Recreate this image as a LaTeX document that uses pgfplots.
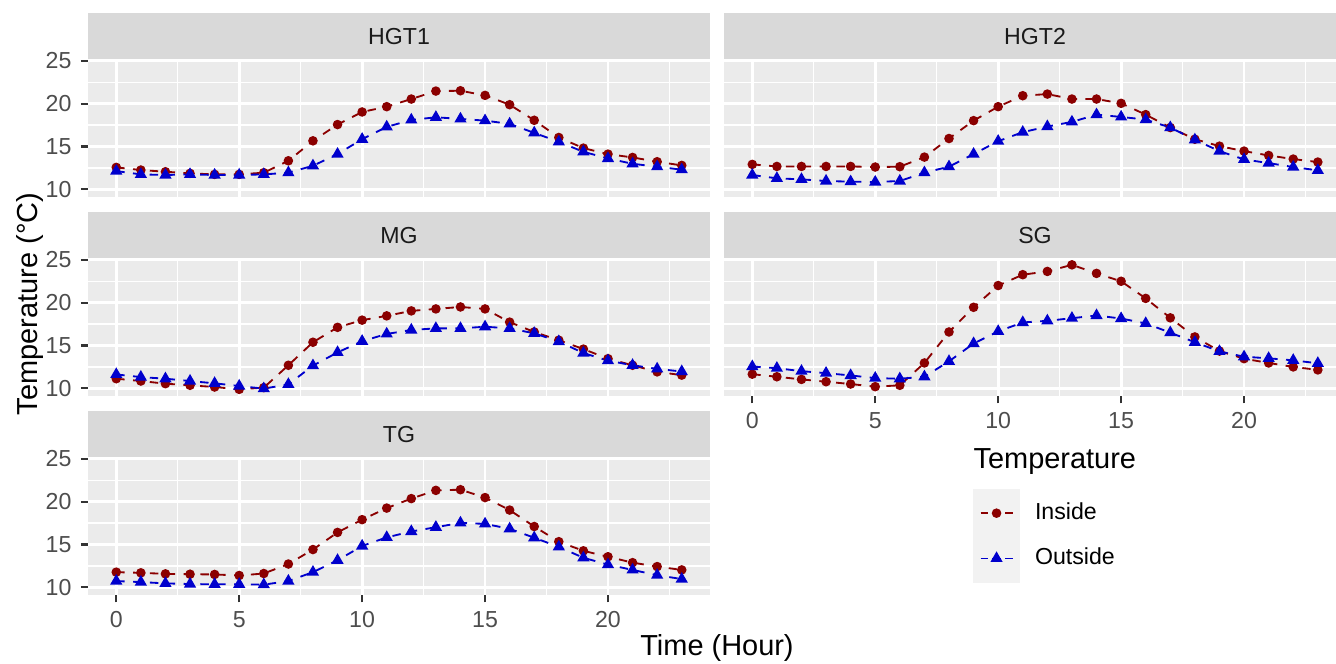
\documentclass[border=0pt]{standalone}
\usepackage{pgfplots}
\pgfplotsset{compat=1.18}
\usepackage{pgfplotstable}
\usepackage{fontspec}
\setmainfont{Liberation Sans}
\definecolor{ggpanel}{HTML}{EBEBEB}
\definecolor{ggstrip}{HTML}{D9D9D9}
\definecolor{ggkey}{HTML}{F2F2F2}
\definecolor{ggtick}{HTML}{333333}
\definecolor{ggticklab}{HTML}{4D4D4D}
\definecolor{ggstriptext}{HTML}{1A1A1A}
\definecolor{cin}{HTML}{8B0000}
\definecolor{cout}{HTML}{0000CD}

\pgfplotstableread{
h in out
0 12.56 12.13
1 12.25 11.74
2 12.05 11.67
3 11.86 11.74
4 11.74 11.67
5 11.74 11.67
6 11.94 11.74
7 13.33 11.94
8 15.66 12.75
9 17.56 14.11
10 19.03 15.85
11 19.65 17.29
12 20.54 18.10
13 21.47 18.41
14 21.51 18.22
15 20.97 18.02
16 19.88 17.64
17 18.06 16.59
18 16.05 15.54
19 14.81 14.38
20 14.11 13.60
21 13.72 12.98
22 13.22 12.64
23 12.79 12.29
}\tHGTone

\pgfplotstableread{
h in out
0 12.91 11.67
1 12.67 11.28
2 12.67 11.16
3 12.67 10.97
4 12.67 10.89
5 12.60 10.85
6 12.64 10.97
7 13.76 11.94
8 15.93 12.64
9 18.02 14.11
10 19.65 15.62
11 20.93 16.67
12 21.12 17.33
13 20.54 17.87
14 20.54 18.72
15 20.04 18.45
16 18.72 18.14
17 17.21 17.21
18 15.85 15.78
19 15.04 14.46
20 14.46 13.49
21 13.95 13.06
22 13.53 12.60
23 13.18 12.21
}\tHGTtwo

\pgfplotstableread{
h in out
0 11.12 11.62
1 10.85 11.31
2 10.54 11.12
3 10.35 10.85
4 10.15 10.58
5 9.88 10.27
6 10.08 9.96
7 12.69 10.46
8 15.38 12.65
9 17.12 14.19
10 17.96 15.50
11 18.46 16.35
12 19.04 16.81
13 19.27 17.00
14 19.50 17.00
15 19.27 17.19
16 17.73 17.00
17 16.58 16.42
18 15.62 15.46
19 14.58 14.12
20 13.46 13.23
21 12.69 12.69
22 11.92 12.27
23 11.54 11.96
}\tMG

\pgfplotstableread{
h in out
0 11.65 12.54
1 11.35 12.35
2 11.04 12.00
3 10.77 11.77
4 10.50 11.50
5 10.19 11.19
6 10.35 11.12
7 12.96 11.35
8 16.58 13.15
9 19.46 15.23
10 22.00 16.65
11 23.27 17.69
12 23.65 17.88
13 24.42 18.19
14 23.42 18.50
15 22.50 18.15
16 20.50 17.58
17 18.23 16.50
18 16.00 15.38
19 14.35 14.31
20 13.46 13.69
21 12.96 13.50
22 12.50 13.27
23 12.15 12.92
}\tSG

\pgfplotstableread{
h in out
0 11.77 10.73
1 11.69 10.61
2 11.57 10.46
3 11.53 10.38
4 11.50 10.35
5 11.38 10.35
6 11.61 10.31
7 12.72 10.73
8 14.41 11.77
9 16.41 13.15
10 17.90 14.83
11 19.25 15.83
12 20.36 16.52
13 21.32 17.02
14 21.40 17.52
15 20.48 17.41
16 19.02 16.83
17 17.10 15.79
18 15.33 14.72
19 14.26 13.45
20 13.57 12.65
21 12.88 12.03
22 12.42 11.42
23 12.03 10.96
}\tTG

\pgfplotsset{
  ggbase/.style={
    scale only axis, anchor=south west,
    height=52.06pt, ymin=9.1, ymax=25.1,
    xtick={0,5,10,15,20}, ytick={10,15,20,25},
    minor xtick={2.5,7.5,12.5,17.5,22.5}, minor ytick={12.5,17.5,22.5},
    grid=both,
    major grid style={white, line width=1.07pt},
    minor grid style={white, line width=0.53pt},
    axis background/.style={fill=ggpanel},
    axis line style={draw=none},
    tick align=outside, major tick length=2.75pt, minor tick length=0pt,
    tick style={ggtick, line width=0.8pt},
    xtick pos=bottom, ytick pos=left,
    tick label style={font=\fontsize{8.8}{10}\selectfont, text=ggticklab},
    /pgf/number format/assume math mode=true,
  },
  leftcol/.style={width=236.36pt, xmin=-1.15, xmax=24.15},
  rightcol/.style={width=232.56pt, xmin=-1.15, xmax=23.74},
  noxt/.style={xticklabels={}, xtick style={draw=none}},
  noyt/.style={yticklabels={}, ytick style={draw=none}},
  pin/.style={cin, line width=0.7pt, dash pattern=on 3.2pt off 3.2pt, mark=*, mark size=1.45pt, mark options={solid, fill=cin}},
  pout/.style={cout, line width=0.7pt, dash pattern=on 3.2pt off 3.2pt, mark=triangle*, mark size=2.0pt, mark options={solid, fill=cout}},
}

\begin{document}
\begin{tikzpicture}
\path[use as bounding box] (0pt,0pt) rectangle (507.68pt,-251.94pt);

% strips
\fill[ggstrip] (33.44pt,-4.94pt) rectangle (269.8pt,-22.8pt);
\fill[ggstrip] (275.12pt,-4.94pt) rectangle (507.68pt,-22.8pt);
\fill[ggstrip] (33.44pt,-80.56pt) rectangle (269.8pt,-98.42pt);
\fill[ggstrip] (275.12pt,-80.56pt) rectangle (507.68pt,-98.42pt);
\fill[ggstrip] (33.44pt,-156.18pt) rectangle (269.8pt,-174.04pt);
\begin{scope}[every node/.style={font=\fontsize{8.8}{10}\selectfont, text=ggstriptext}]
\node at (151.62pt,-13.87pt) {HGT1};
\node at (393.3pt,-13.87pt) {HGT2};
\node at (151.62pt,-89.49pt) {MG};
\node at (393.3pt,-89.49pt) {SG};
\node at (151.62pt,-165.11pt) {TG};
\end{scope}

\begin{axis}[ggbase, leftcol, noxt, at={(33.44pt,-74.86pt)}]
\addplot[pin] table[x=h,y=in] {\tHGTone};
\addplot[pout] table[x=h,y=out] {\tHGTone};
\end{axis}

\begin{axis}[ggbase, rightcol, noxt, noyt, at={(275.12pt,-74.86pt)}]
\addplot[pin] table[x=h,y=in] {\tHGTtwo};
\addplot[pout] table[x=h,y=out] {\tHGTtwo};
\end{axis}

\begin{axis}[ggbase, leftcol, noxt, at={(33.44pt,-150.48pt)}]
\addplot[pin] table[x=h,y=in] {\tMG};
\addplot[pout] table[x=h,y=out] {\tMG};
\end{axis}

\begin{axis}[ggbase, rightcol, noyt, at={(275.12pt,-150.48pt)},
  legend image code/.code={
    \path[fill=ggkey, draw=none, overlay] (0pt,-9.3pt) rectangle (17.86pt,9.3pt);
    \path[draw=none, fill=none] (0pt,-8.6pt) rectangle (17.86pt,8.6pt);
    \draw[#1, mark=none, solid] (2.9pt,0pt) -- (5.6pt,0pt) (7.2pt,0pt) -- (10.7pt,0pt) (12.3pt,0pt) -- (15pt,0pt);
    \draw[#1] plot coordinates {(8.93pt,0pt)};
  },
  legend cell align=left,
  legend style={at={(0.4069,-0.69)}, anchor=north west, draw=none, fill=none,
    inner sep=0pt, outer sep=0pt, row sep=0pt, column sep=5.7pt,
    font=\fontsize{8.8}{10}\selectfont, nodes={inner sep=0pt}}]
\addplot[pin] table[x=h,y=in] {\tSG};
\addlegendentry{Inside}
\addplot[pout] table[x=h,y=out] {\tSG};
\addlegendentry{Outside}
\end{axis}

\begin{axis}[ggbase, leftcol, at={(33.44pt,-226.1pt)}]
\addplot[pin] table[x=h,y=in] {\tTG};
\addplot[pout] table[x=h,y=out] {\tTG};
\end{axis}

% titles
\node[rotate=90, font=\fontsize{11}{13}\selectfont] at (11.4pt,-115.5pt) {Temperature (°C)};
\node[font=\fontsize{11}{13}\selectfont] at (272.46pt,-246.2pt) {Time (Hour)};
\node[anchor=west, inner sep=0pt, font=\fontsize{11}{13}\selectfont] at (369.74pt,-175.56pt) {Temperature};
\end{tikzpicture}
\end{document}
